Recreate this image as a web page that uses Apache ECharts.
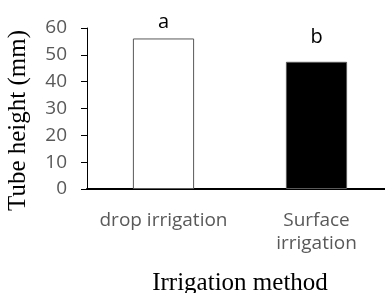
<!DOCTYPE html>
<html>
<head>
<meta charset="utf-8">
<script src="https://cdn.jsdelivr.net/npm/echarts@6/dist/echarts.min.js"></script>
<style>
  html, body { margin: 0; padding: 0; background: #fff; }
  #chart { width: 385px; height: 293px; }
</style>
</head>
<body>
<div id="chart"></div>
<script>
var categories = ['drop irrigation', 'Surface\nirrigation'];
var heights = [56.1, 47.4];
var letters = ['a', 'b'];
var yTicks = [0, 10, 20, 30, 40, 50, 60];

var barColors = ['#ffffff', '#000000'];
// the letters don't sit at the same height above the bars
var letterGap = [6, 15];

var option = {
    animation: false,
    grid: { left: 87, right: -8, top: 28, bottom: 104, outerBoundsMode: 'none' },
    xAxis: {
        type: 'category',
        data: categories,
        name: 'Irrigation method',
        nameLocation: 'middle',
        nameGap: 82,
        nameTextStyle: { fontFamily: 'Liberation Serif', fontSize: 25, color: '#000' },
        axisLine: { lineStyle: { color: '#000', width: 2 } },
        axisTick: { length: 5, lineStyle: { color: '#000', width: 1 } },
        axisLabel: {
            interval: 0, hideOverlap: false,
            fontFamily: 'Open Sans', fontSize: 19, color: '#595959', margin: 20, lineHeight: 23
        }
    },
    yAxis: {
        type: 'value',
        min: yTicks[0],
        max: yTicks[yTicks.length - 1],
        interval: 10,
        name: 'Tube height (mm)',
        nameLocation: 'middle',
        nameGap: 56,
        nameTextStyle: { fontFamily: 'Liberation Serif', fontSize: 25, color: '#000', padding: [0, 24, 0, 0] },
        axisLine: { show: true, lineStyle: { color: '#000', width: 1 } },
        axisTick: { show: true, length: 6, lineStyle: { color: '#000' } },
        axisLabel: { fontFamily: 'Open Sans', fontSize: 19, color: '#595959', margin: 20 },
        splitLine: { show: false }
    },
    series: [{
        type: 'bar',
        barWidth: '40%',
        data: heights.map(function (v, i) {
            return {
                value: v,
                itemStyle: { color: barColors[i], borderColor: '#595959', borderWidth: 1 },
                label: { distance: letterGap[i] }
            };
        }),
        label: {
            show: true,
            position: 'top',
            fontFamily: 'Open Sans',
            fontSize: 20,
            color: '#000',
            formatter: function (p) { return letters[p.dataIndex]; }
        }
    }]
};

var myChart = echarts.init(document.getElementById('chart'));
myChart.setOption(option);
</script>
</body>
</html>
